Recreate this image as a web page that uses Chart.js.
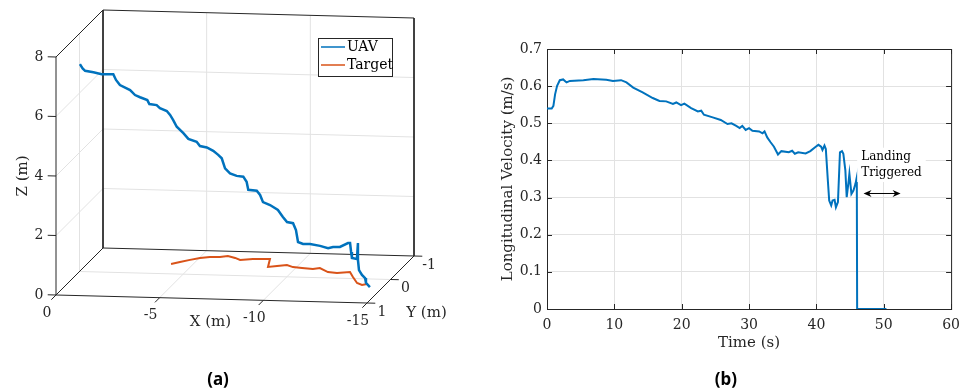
<!DOCTYPE html>
<html lang="en">
<head>
    <meta charset="UTF-8">
    <title>UAV trajectory and longitudinal velocity</title>
    <script src="https://cdn.jsdelivr.net/npm/chart.js"></script>
    <style>
        body { margin: 0; background: #fff; }
        #wrap { position: relative; width: 968px; height: 390px; }
        canvas { position: absolute; top: 0; }
        .cap { position: absolute; top: 367px; width: 60px; text-align: center;
               font: bold 17px "Noto Sans", sans-serif; color: #000; }
    </style>
</head>
<body>
<div id="wrap">
    <canvas id="traj" width="490" height="390" style="left:0"></canvas>
    <canvas id="vel" width="478" height="390" style="left:490px"></canvas>
    <div class="cap" style="left:188px">(a)</div>
    <div class="cap" style="left:696px">(b)</div>
</div>

<script>
    // ---- (a) 3D trajectories, metres ----
    const uavX = [-0.02, -0.15, -0.27, -0.67, -1.07, -1.63, -1.76, -1.95, -2.44, -2.68, -2.92, -3.27, -3.37, -3.72, -3.88,
        -4.21, -4.37, -4.52, -4.69, -5.01, -5.25, -5.65, -5.81, -6.14, -6.45, -6.69, -6.86, -7.02, -7.26, -7.58, -7.90,
        -8.06, -8.14, -8.55, -8.71, -8.85, -9.19, -9.57, -9.81, -10.01, -10.30, -10.44, -10.54, -10.78, -11.12, -11.60,
        -11.99, -12.23, -12.56, -12.95, -13.05, -13.10, -13.14, -13.38, -13.43, -13.43, -13.48, -13.85, -14.00, -14.27, -14.46];
    const uavY = [0, 0, 0, 0, 0, 0, 0, 0, 0, 0, 0, 0, 0, 0, 0, 0, 0, 0, 0, 0, 0, 0, 0, 0, 0, 0, 0, 0, 0, 0, 0,
        0, 0, 0, 0, 0, 0, 0, 0, 0, 0, 0, 0, 0, 0, 0, 0, 0, 0, 0, 0, 0, 0, 0, 0, 0, 0, 0.2, 0.2, 0.4, 0.4];
    const uavZ = [6.97, 6.83, 6.75, 6.71, 6.65, 6.66, 6.47, 6.30, 6.14, 5.98, 5.91, 5.82, 5.69, 5.66, 5.56,
        5.47, 5.34, 5.17, 4.95, 4.74, 4.55, 4.46, 4.32, 4.28, 4.17, 4.04, 3.93, 3.59, 3.43, 3.35, 3.33,
        3.16, 2.89, 2.87, 2.73, 2.49, 2.40, 2.24, 2.01, 1.84, 1.81, 1.58, 1.18, 1.12, 1.12, 1.07,
        1.00, 1.04, 1.05, 1.19, 1.19, 0.89, 0.69, 0.66, 1.20, 0.63, 0.29, 0.29, 0.19, 0.19, 0.05];

    const targetX = [-3.95, -4.28, -4.65, -5.03, -5.45, -5.92, -6.25, -6.68, -7.01, -7.57, -8.04, -8.37, -8.65,
        -9.03, -9.45, -9.83, -10.30, -10.86, -11.14, -11.71, -12.18, -12.74, -13.12, -13.59, -13.92, -14.11];
    const targetY = [-0.41, -0.50, -0.60, -0.69, -0.74, -0.75, -0.80, -0.73, -0.65, -0.70, -0.71, -0.72, -0.39,
        -0.44, -0.49, -0.41, -0.38, -0.35, -0.40, -0.24, -0.21, -0.27, -0.06, 0.18, 0.26, 0.21];
    const targetZ = [0, 0, 0, 0, 0, 0, 0, 0, 0, 0, 0, 0, 0, 0, 0, 0, 0, 0, 0, 0, 0, 0, 0, 0, 0, 0];

    const xLim = [0, -15], yLim = [1, -1], zLim = [0, 8];
    const xTicks = [0, -5, -10, -15];
    const yTicks = [1, 0, -1];
    const zTicks = [0, 2, 4, 6, 8];

    // ---- (b) longitudinal velocity ----
    const timeS = [0, 0.7, 0.95, 1.2, 1.5, 1.9, 2.4, 2.9, 3.4, 5.4, 6.9, 8.8, 9.8, 11.0, 11.8, 12.8, 14.2, 15.7, 16.7,
        17.7, 18.7, 19.2, 19.9, 20.4, 21.4, 22.4, 22.9, 23.3, 24.6, 25.8, 26.8, 27.4, 28.1, 28.6, 29.0, 29.5, 30.0,
        30.5, 31.5, 32.0, 32.3, 32.7, 33.2, 33.7, 34.3, 34.8, 35.9, 36.4, 36.8, 37.3, 38.4, 39.1, 39.9, 40.3, 40.7,
        40.9, 41.2, 41.4, 41.7, 41.9, 42.2, 42.4, 42.7, 42.9, 43.2, 43.5, 43.8, 44.0, 44.3, 44.5, 44.8, 44.9, 45.2,
        45.5, 45.8, 46.0, 46.05, 50.4];
    const velocity = [0.540, 0.540, 0.547, 0.578, 0.601, 0.616, 0.618, 0.610, 0.614, 0.616, 0.619, 0.617, 0.614,
        0.616, 0.610, 0.596, 0.583, 0.568, 0.560, 0.559, 0.552, 0.556, 0.549, 0.553, 0.541, 0.532, 0.534, 0.523,
        0.516, 0.509, 0.498, 0.500, 0.493, 0.487, 0.493, 0.482, 0.487, 0.480, 0.478, 0.473, 0.478, 0.462, 0.449,
        0.437, 0.416, 0.425, 0.422, 0.426, 0.418, 0.422, 0.419, 0.425, 0.437, 0.442, 0.437, 0.428, 0.440, 0.431,
        0.346, 0.292, 0.279, 0.292, 0.294, 0.274, 0.288, 0.422, 0.425, 0.418, 0.373, 0.301, 0.346, 0.364, 0.310,
        0.319, 0.337, 0.355, 0, 0];
    const noteLines = ['Landing', 'Triggered'];
    const noteAt = { t: 46.65, v: [0.41, 0.366] };
    const arrowSpan = [47.0, 52.5], arrowV = 0.311;

    const serif = '"DejaVu Serif", serif';
    const ink = '#262626';
    const blue = '#0072BD', orange = '#D95319';
    const gridColor = '#e2e2e2';

    // camera for panel (a): where the box corners land on the canvas
    const view = { left: 56, bottom: 295, xRun: 311, xDrop: 8, yRun: 47, zRise: 238 };

    function project(x, y, z) {
        const a = (x - xLim[0]) / (xLim[1] - xLim[0]);
        const b = (y - yLim[0]) / (yLim[1] - yLim[0]);
        const c = (z - zLim[0]) / (zLim[1] - zLim[0]);
        return {
            x: view.left + view.xRun * a + view.yRun * b,
            y: view.bottom + view.xDrop * a - view.yRun * b - view.zRise * c
        };
    }

    function path(xs, ys, zs) {
        return xs.map((x, i) => project(x, ys[i], zs[i]));
    }

    function seg(p, q, color, order) {
        return {
            data: [project(...p), project(...q)],
            borderColor: color, borderWidth: 1, showLine: true,
            pointRadius: 0, order: order
        };
    }

    function buildTrajectoryChart() {
        const [x0, x1] = xLim, [y0, y1] = yLim, [z0, z1] = zLim;
        const ds = [];
        ds.push({ label: 'UAV', data: path(uavX, uavY, uavZ), borderColor: blue, borderWidth: 2.5,
                  showLine: true, pointRadius: 0, order: 0 });
        ds.push({ label: 'Target', data: path(targetX, targetY, targetZ), borderColor: orange, borderWidth: 2,
                  showLine: true, pointRadius: 0, order: 1 });

        // grid on the three back planes
        xTicks.filter(v => v !== x0 && v !== x1).forEach(v => {
            ds.push(seg([v, y1, z0], [v, y1, z1], gridColor, 3));
            ds.push(seg([v, y0, z0], [v, y1, z0], gridColor, 3));
        });
        zTicks.filter(v => v !== z0 && v !== z1).forEach(v => {
            ds.push(seg([x0, y1, v], [x1, y1, v], gridColor, 3));
            ds.push(seg([x0, y0, v], [x0, y1, v], gridColor, 3));
        });
        yTicks.filter(v => v !== y0 && v !== y1).forEach(v => {
            ds.push(seg([x0, v, z0], [x0, v, z1], gridColor, 3));
            ds.push(seg([x0, v, z0], [x1, v, z0], gridColor, 3));
        });

        // box edges
        const edges = [
            [[x0, y0, z0], [x0, y0, z1]], [[x0, y0, z1], [x0, y1, z1]], [[x0, y1, z1], [x1, y1, z1]],
            [[x1, y1, z1], [x1, y1, z0]], [[x0, y1, z1], [x0, y1, z0]], [[x0, y0, z0], [x1, y0, z0]],
            [[x1, y0, z0], [x1, y1, z0]], [[x0, y0, z0], [x0, y1, z0]], [[x0, y1, z0], [x1, y1, z0]]
        ];
        edges.forEach(e => ds.push(seg(e[0], e[1], ink, 2)));

        // tick marks
        zTicks.forEach(v => ds.push(seg([x0, y0, v], [x0 + 0.4, y0, v], ink, 2)));
        xTicks.forEach(v => ds.push(seg([v, y0, z0], [v, y0 + 0.2, z0], ink, 2)));
        yTicks.forEach(v => ds.push(seg([x1, v, z0], [x1 - 0.4, v, z0], ink, 2)));

        const labels3d = {
            id: 'labels3d',
            afterDraw(chart) {
                const { ctx, scales: { x, y } } = chart;
                const at = (p, dx, dy) => [x.getPixelForValue(p.x) + dx, y.getPixelForValue(p.y) + dy];
                ctx.save();
                ctx.fillStyle = ink;
                ctx.font = '14px ' + serif;
                ctx.textAlign = 'center';
                ctx.textBaseline = 'middle';
                zTicks.forEach(v => { const [px, py] = at(project(x0, y0, v), -17, 0); ctx.fillText(String(v), px, py); });
                xTicks.forEach(v => { const [px, py] = at(project(v, y0, z0), -9, 18); ctx.fillText(String(v), px, py); });
                yTicks.forEach(v => { const [px, py] = at(project(x1, v, z0), 15, 9); ctx.fillText(String(v), px, py); });

                ctx.font = '15px ' + serif;
                let [px, py] = at(project((x0 + x1) / 2, y0, z0), -1, 23);
                ctx.fillText('X (m)', px, py);
                [px, py] = at(project(x1, (y0 + y1) / 2, z0), 36, 34);
                ctx.fillText('Y (m)', px, py);
                [px, py] = at(project(x0, y0, (z0 + z1) / 2), -33, 0);
                ctx.save();
                ctx.translate(px, py);
                ctx.rotate(-Math.PI / 2);
                ctx.fillText('Z (m)', 0, 0);
                ctx.restore();

                // legend
                ctx.fillStyle = '#fff';
                ctx.fillRect(318, 38, 74, 38);
                ctx.strokeStyle = ink;
                ctx.lineWidth = 1;
                ctx.strokeRect(318.5, 38.5, 74, 38);
                ctx.font = '14px ' + serif;
                ctx.textAlign = 'left';
                ctx.fillStyle = '#000';
                [[blue, 'UAV', 47], [orange, 'Target', 65]].forEach(([c, t, ly]) => {
                    ctx.strokeStyle = c;
                    ctx.lineWidth = 1.5;
                    ctx.beginPath();
                    ctx.moveTo(321, ly);
                    ctx.lineTo(345, ly);
                    ctx.stroke();
                    ctx.fillText(t, 347, ly);
                });
                ctx.restore();
            }
        };

        new Chart(document.getElementById('traj').getContext('2d'), {
            type: 'scatter',
            data: { datasets: ds },
            options: {
                responsive: false,
                animation: false,
                layout: { padding: 0 },
                plugins: { legend: { display: false }, tooltip: { enabled: false } },
                scales: {
                    x: { type: 'linear', min: 0, max: 490, display: false },
                    y: { type: 'linear', min: 0, max: 390, reverse: true, display: false }
                }
            },
            plugins: [labels3d]
        });
    }

    function buildVelocityChart() {
        const frame = {
            id: 'frame',
            beforeDatasetsDraw(chart) {
                const { ctx, chartArea: a, scales: { x, y } } = chart;
                ctx.save();
                ctx.strokeStyle = ink;
                ctx.lineWidth = 1;
                ctx.strokeRect(a.left + 0.5, a.top + 0.5, a.right - a.left, a.bottom - a.top);
                ctx.beginPath();
                x.ticks.forEach(t => {
                    const p = Math.round(x.getPixelForValue(t.value)) + 0.5;
                    ctx.moveTo(p, a.bottom); ctx.lineTo(p, a.bottom - 5);
                    ctx.moveTo(p, a.top); ctx.lineTo(p, a.top + 5);
                });
                y.ticks.forEach(t => {
                    const p = Math.round(y.getPixelForValue(t.value)) + 0.5;
                    ctx.moveTo(a.left, p); ctx.lineTo(a.left + 5, p);
                    ctx.moveTo(a.right, p); ctx.lineTo(a.right - 5, p);
                });
                ctx.stroke();
                ctx.restore();
            },
            afterDraw(chart) {
                const { ctx, chartArea: a, scales: { x, y } } = chart;
                ctx.save();
                ctx.fillStyle = ink;
                ctx.font = '15px ' + serif;
                ctx.textAlign = 'center';
                ctx.textBaseline = 'middle';
                ctx.fillText('Time (s)', (a.left + a.right) / 2, a.bottom + 34);
                ctx.save();
                ctx.translate(a.left - 39, (a.top + a.bottom) / 2);
                ctx.rotate(-Math.PI / 2);
                ctx.fillText('Longitudinal Velocity (m/s)', 0, 0);
                ctx.restore();

                // annotation
                ctx.font = '12px ' + serif;
                ctx.textAlign = 'left';
                const tx = x.getPixelForValue(noteAt.t);
                const w = Math.max(...noteLines.map(s => ctx.measureText(s).width));
                const yTop = y.getPixelForValue(noteAt.v[0]) - 9;
                const yBot = y.getPixelForValue(noteAt.v[1]) + 9;
                ctx.fillStyle = '#fff';
                ctx.fillRect(tx - 4, yTop, w + 8, yBot - yTop);
                ctx.fillStyle = '#000';
                noteLines.forEach((s, i) => ctx.fillText(s, tx, y.getPixelForValue(noteAt.v[i])));

                const ax0 = x.getPixelForValue(arrowSpan[0]), ax1 = x.getPixelForValue(arrowSpan[1]);
                const ay = y.getPixelForValue(arrowV);
                ctx.strokeStyle = '#000';
                ctx.lineWidth = 1;
                ctx.beginPath();
                ctx.moveTo(ax0 + 3, ay); ctx.lineTo(ax1 - 3, ay);
                ctx.stroke();
                [[ax0, 1], [ax1, -1]].forEach(([hx, d]) => {
                    ctx.beginPath();
                    ctx.moveTo(hx, ay);
                    ctx.lineTo(hx + d * 8, ay - 3.5);
                    ctx.lineTo(hx + d * 5.5, ay);
                    ctx.lineTo(hx + d * 8, ay + 3.5);
                    ctx.closePath();
                    ctx.fill();
                });
                ctx.restore();
            }
        };

        new Chart(document.getElementById('vel').getContext('2d'), {
            type: 'scatter',
            data: {
                datasets: [{
                    label: 'Longitudinal velocity',
                    data: timeS.map((t, i) => ({ x: t, y: velocity[i] })),
                    borderColor: blue, borderWidth: 2, showLine: true, pointRadius: 0
                }]
            },
            options: {
                responsive: false,
                animation: false,
                layout: { padding: { left: 0, right: 12, top: 49, bottom: 0 } },
                plugins: { legend: { display: false }, tooltip: { enabled: false } },
                scales: {
                    x: {
                        type: 'linear', min: 0, max: 60,
                        ticks: { stepSize: 10, padding: 8, color: ink, font: { family: serif, size: 14 } },
                        grid: { color: gridColor, drawTicks: false },
                        border: { display: false },
                        afterFit: s => { s.height = 81; }
                    },
                    y: {
                        type: 'linear', min: 0, max: 0.7,
                        ticks: { stepSize: 0.1, padding: 5, color: ink, font: { family: serif, size: 14 } },
                        grid: { color: gridColor, drawTicks: false },
                        border: { display: false },
                        afterFit: s => { s.width = 57; }
                    }
                }
            },
            plugins: [frame]
        });
    }

    buildTrajectoryChart();
    buildVelocityChart();
</script>
</body>
</html>
